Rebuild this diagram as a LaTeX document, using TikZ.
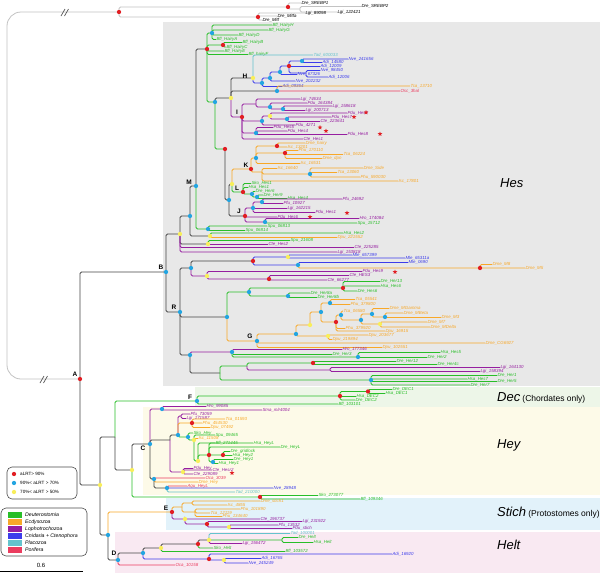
\documentclass[tikz,border=0pt]{standalone}
\usepackage{fontspec}
\setmainfont{Liberation Sans}
\usetikzlibrary{shapes.geometric}
\pgfdeclarelayer{bg}\pgfdeclarelayer{fg}\pgfsetlayers{bg,main,fg}
\definecolor{dG}{RGB}{40,190,40}
\definecolor{dO}{RGB}{248,168,40}
\definecolor{dP}{RGB}{150,30,160}
\definecolor{dB}{RGB}{60,60,235}
\definecolor{dC}{RGB}{100,195,205}
\definecolor{dR}{RGB}{235,60,95}
\definecolor{bk}{RGB}{70,70,70}
\definecolor{ogc}{RGB}{195,195,195}
\definecolor{cR}{RGB}{225,30,35}
\definecolor{cB}{RGB}{35,165,225}
\definecolor{cY}{RGB}{248,238,90}
\definecolor{bgHes}{RGB}{232,232,232}
\definecolor{bgDec}{RGB}{237,246,232}
\definecolor{bgHey}{RGB}{253,250,232}
\definecolor{bgSt}{RGB}{226,242,250}
\definecolor{bgHe}{RGB}{249,233,242}
\newcommand\lfont{\fontsize{4.4}{5}\selectfont\itshape}
\newcommand\tdot[2]{\begin{pgfonlayer}{fg}\node[dot,fill=#2] (#1-d) at (#1) {};\end{pgfonlayer}}
\newcommand\tleaf[6]{\node[lf,text=#5] (#1) at (#3,#4) {#6};\draw[br,#5] (#2) |- (#1.west);}
\newcommand\tleafk[6]{\node[lf,text=black] (#1) at (#3,#4) {#6};\draw[br,#5] (#2) |- (#1.west);}
\newcommand\tnode[6]{\coordinate (#1) at (#3,#4);\draw[br,#5] (#2) |- (#1);\tdot{#1}{#6}}
\newcommand\tstar[3]{\begin{pgfonlayer}{fg}\node[st] (#1) at (#2,#3) {};\end{pgfonlayer}}
\tikzset{
  br/.style={line width=0.8pt,rounded corners=1.5pt},
  lf/.style={anchor=west,inner sep=0.3pt,font=\lfont},
  dot/.style={circle,inner sep=0pt,minimum size=4.3pt,draw=none},
  st/.style={star,star points=5,star point ratio=2.2,fill=cR,minimum size=4.8pt,inner sep=0pt},
  clet/.style={font=\fontsize{6.5}{7}\selectfont\bfseries,inner sep=0pt},
  big/.style={anchor=west,inner sep=0pt,font=\fontsize{13}{14}\selectfont\itshape},
  brk/.style={black!65,line width=0.7pt},
}
\begin{document}
\begin{tikzpicture}[x=1pt,y=-1pt]
\useasboundingbox (0,0) rectangle (600,573);
\begin{pgfonlayer}{bg}
\fill[white] (0,0) rectangle (600,573);
\fill[bgHes] (163,22) rectangle (600,386);
\fill[bgDec] (195,387) rectangle (600,407);
\fill[bgHey] (143,407) rectangle (600,495);
\fill[bgSt] (166,498) rectangle (600,530);
\fill[bgHe] (115,532) rectangle (600,573);
\end{pgfonlayer}
% ---------- outgroup ----------
\coordinate (A) at (80,379);
\coordinate (og) at (119,12);
\draw[br,ogc,rounded corners=14pt] (A) -- (7,379) -- (7,12) -- (og);
\draw[brk] (40,383) -- (44,376) (43.5,383) -- (47.5,376);
\draw[brk] (61,16) -- (65,9) (64.5,16) -- (68.5,9);
\tdot{A}{cR}\tdot{og}{cR}
\tnode{ogS}{og}{288}{7}{ogc}{cR}
\tleafk{sreb1}{ogS}{301}{3}{ogc}{Dre\_SREBP1}
\tnode{ogS2}{ogS}{300}{9}{ogc}{none}
\tleafk{sreb2}{ogS2}{361}{6.5}{ogc}{Dre\_SREBP2}
\tleafk{lgi122}{ogS2}{337}{12}{ogc}{Lgi\_122421}
\tnode{ogM}{og}{258}{17}{ogc}{cR}
\tleafk{lgi89}{ogM}{305}{13}{ogc}{Lgi\_89098}
\tleafk{mitfa}{ogM}{277}{16}{ogc}{Dre\_Mitfa}
\tleafk{mitf}{ogM}{262}{20}{ogc}{Dre\_Mitf}
% ---------- Hes ----------
\tnode{B}{A}{166}{272}{bk}{cB}
\tnode{YB}{B}{180}{234}{bk}{cY}
\tnode{MB}{YB}{190}{216}{bk}{cB}
\tnode{M}{MB}{196}{186}{bk}{cB}
\tnode{N1}{M}{207}{49}{bk}{cR}
\tnode{bflA}{N1}{212}{33}{dG}{cB}
\tleaf{hH}{bflA}{272}{25}{dG}{Bfl\_HairyH}
\tleaf{hG}{bflA}{268}{30}{dG}{Bfl\_HairyG}
\tleaf{hD}{bflA}{238}{35}{dG}{Bfl\_HairyD}
\tleaf{hA}{bflA}{216}{39.5}{dG}{Bfl\_HairyA}
\tnode{bflB}{N1}{223}{45}{dG}{cR}
\tleaf{hB}{bflB}{242}{42.5}{dG}{Bfl\_HairyB}
\tleaf{hC}{bflB}{226}{47}{dG}{Bfl\_HairyC}
\tleaf{hE}{N1}{224}{51}{dG}{Bfl\_HairyE}
\tleaf{hF}{N1}{248}{54.5}{dG}{Bfl\_hairyF}
\tnode{N2}{N1}{215}{102}{dG}{cB}
\tnode{HI}{N2}{231}{98}{bk}{cY}
\tnode{H}{HI}{253}{78}{bk}{cY}
\tleaf{tad6}{H}{313}{55}{dC}{Tad\_600033}
\tnode{cnA}{H}{262}{83}{dB}{cB}
\tleaf{adi093}{cnA}{282}{86.5}{dB}{Adi\_09364}
\tnode{cnB}{cnA}{270}{78}{dB}{cB}
\tleaf{nve202}{cnB}{295}{81}{dB}{Nve\_202232}
\tnode{cnC}{cnB}{280}{72}{dB}{cB}
\tleaf{nve673}{cnC}{297}{74.5}{dB}{Nve\_67326}
\tnode{cnD}{cnC}{289}{66}{dB}{cR}
\tnode{cnE}{cnD}{302}{61}{dB}{cB}
\tleaf{nve241}{cnE}{348}{59}{dB}{Nve\_241656}
\tleaf{adi145}{cnE}{322}{62.5}{dB}{Adi\_14580}
\tleaf{adi120}{cnD}{320}{66.5}{dB}{Adi\_12009}
\tnode{cnF}{cnD}{306}{73}{dB}{none}
\tleaf{nve984}{cnF}{320}{70.5}{dB}{Nve\_98450}
\tleaf{adi1206}{cnF}{328}{77}{dB}{Adi\_12006}
\tnode{os}{HI}{277}{91}{bk}{cB}
\tleaf{tca137}{os}{410}{86}{dO}{Tca\_13710}
\tleaf{osc}{os}{400}{91}{dR}{Osc\_3hal}
% I clade
\tnode{I}{HI}{242}{117}{dP}{cR}
\tnode{iA}{I}{256}{104}{dP}{none}
\tleaf{lgi746}{iA}{300}{99}{dP}{Lgi\_74634}
\tnode{iB}{iA}{270}{107}{dP}{cB}
\tleaf{pdu164}{iB}{307}{103}{dP}{Pdu\_164384}
\tnode{iC}{iB}{283}{109}{dP}{cB}
\tleaf{lgi158}{iC}{332}{106}{dP}{Lgi\_158618}
\tleaf{lgi200}{iC}{305}{110.5}{dP}{Lgi\_200713}
\tnode{iD}{I}{262}{121}{dP}{cB}
\tnode{iE}{iD}{270}{116}{dP}{cY}
\tleaf{pduh2}{iE}{347}{113}{dP}{Pdu\_Hes2}
\tnode{iF}{iE}{287}{119}{dP}{cB}
\tleaf{pduh7}{iF}{331}{117}{dP}{Pdu\_Hes7}
\tleaf{cte223}{iF}{320}{121.5}{dP}{Cte\_223641}
\tleaf{pdu427}{iD}{295}{125}{dP}{Pdu\_4271}
\tnode{iG}{I}{256}{133}{dP}{cB}
\tleaf{pduh5}{iG}{273}{127.5}{dP}{Pdu\_Hes5}
\tleaf{pduh4}{iG}{287}{131}{dP}{Pdu\_Hes4}
\tleaf{pduh8}{iG}{347}{134.5}{dP}{Pdu\_Hes8}
\tleaf{cteh1}{I}{303}{139}{dP}{Cte\_Hes1}
\tstar{s1}{366}{112.5}\tstar{s2}{354}{117}\tstar{s3}{380}{134}\tstar{s4}{320}{127.5}\tstar{s5}{326}{131}
% K L J
\tnode{N3}{N2}{225}{149}{dG}{cR}
\tnode{KLJ}{N3}{229}{200}{bk}{cB}
\tnode{KL}{KLJ}{232}{184}{bk}{cY}
\tnode{K}{KL}{251}{169}{dO}{cR}
\tnode{k1}{K}{256}{158}{dO}{cB}
\tnode{k2}{k1}{277}{146}{dO}{cR}
\tleaf{dmehairy}{k2}{305}{143}{dO}{Dme\_hairy}
\tleaf{isc132}{k2}{287}{147}{dO}{Isc\_13201}
\tnode{k3}{k1}{285}{153}{dO}{cR}
\tleaf{phu170}{k3}{298}{150.5}{dO}{Phu\_170110}
\tleaf{tca062}{k3}{343}{154.5}{dO}{Tca\_06224}
\tleaf{dmedpn}{k3}{322}{158.5}{dO}{Dme\_dpn}
\tleaf{isc165}{k1}{300}{163.5}{dO}{Isc\_16531}
\tnode{k4}{K}{262}{172}{dO}{none}
\tleaf{isc166}{k4}{277}{168.5}{dO}{Isc\_16640}
\tnode{k5}{k4}{310}{174}{dO}{cB}
\tleaf{dmeside}{k5}{363}{168}{dO}{Dme\_Side}
\tleaf{tca130}{k5}{337}{172.5}{dO}{Tca\_13060}
\tleaf{phu590}{k5}{360}{177}{dO}{Phu\_590030}
\tleaf{isc178}{k4}{398}{181}{dO}{Isc\_17801}
\tnode{L}{KL}{243}{192}{dG}{cR}
\tleaf{skoh1}{L}{251}{183.5}{dG}{Sko\_Hes1}
\tleaf{hsah1}{L}{248}{187.5}{dG}{Hsa\_Hes1}
\tnode{lA}{L}{252}{194}{dG}{cB}
\tleaf{dreh6}{lA}{255}{191.5}{dG}{Dre\_Her6}
\tnode{lB}{lA}{257}{197}{dG}{cB}
\tleaf{dreh9}{lB}{263}{195}{dG}{Dre\_Her9}
\tleaf{hsah4}{lB}{287}{198.5}{dG}{Hsa\_Hes4}
\tnode{J}{KLJ}{245}{216}{bk}{cR}
\tnode{jA}{J}{253}{208}{dP}{cB}
\tnode{jB}{jA}{262}{202}{dP}{cB}
\tleaf{pfu246}{jB}{342}{199}{dP}{Pfu\_24692}
\tleaf{pfu109}{jB}{283}{203.5}{dP}{Pfu\_10927}
\tleaf{lgi162}{jA}{287}{208.5}{dP}{Lgi\_162215}
\tleaf{pduh1}{jA}{315}{212.5}{dP}{Pdu\_Hes1}
\tleaf{pduh6}{J}{277}{217}{dP}{Pdu\_Hes6}
\tnode{hs}{J}{265}{222}{dP}{cB}
\tleaf{hro174}{hs}{359}{218.5}{dP}{Hro\_174084}
\tleaf{spu157}{hs}{357}{223}{dG}{Spu\_15712}
\tstar{s6}{347}{213}\tstar{s7}{310}{217}
\tnode{sp}{M}{208}{229}{dG}{cB}
\tleaf{spu813}{sp}{267}{226}{dG}{Spu\_06813}
\tleaf{spu814}{sp}{245}{230.5}{dG}{Spu\_06814}
\tnode{yh}{MB}{210}{236}{bk}{cY}
\tleaf{hsah2}{yh}{343}{233}{dG}{Hsa\_Hes2}
\tleaf{dpu221}{yh}{337}{237.5}{dO}{Dpu\_221552}
\tnode{yc}{YB}{208}{244}{bk}{cY}
\tleaf{spu216}{yc}{290}{240.5}{dG}{Spu\_21608}
\tleaf{cteh2}{yc}{268}{244.5}{dP}{Cte\_Hes2}
\tleaf{cte225}{YB}{354}{247.5}{dP}{Cte\_225285}
\tleaf{lgi153}{YB}{337}{252}{dP}{Lgi\_153818}
% R
\tnode{R}{B}{180}{312}{bk}{cB}
\tnode{rU}{R}{191}{268}{bk}{cB}
\tnode{mle}{rU}{253}{261}{bk}{cR}
\tnode{m1}{mle}{288}{257}{dB}{cY}
\tleaf{mle657}{m1}{352}{255}{dB}{Mle\_657399}
\tleaf{mle653}{m1}{405}{258}{dB}{Mle\_65311a}
\tnode{m2}{mle}{298}{265}{dB}{cB}
\tleaf{mle069}{m2}{408}{262.5}{dB}{Mle\_0690}
\tnode{m3}{m2}{480}{268}{dO}{cR}
\tleaf{dmem8}{m3}{492}{264.5}{dO}{Dme\_M8}
\tleaf{dmem5}{m3}{525}{268}{dO}{Dme\_M5}
\tnode{yp}{rU}{207}{276}{dP}{cY}
\tleaf{pduh9}{yp}{362}{271.5}{dP}{Pdu\_Hes9}
\tnode{cte}{yp}{269}{279}{dP}{cR}
\tleaf{cteh3}{cte}{349}{275.5}{dP}{Cte\_HES3}
\tleaf{cte662}{cte}{327}{280}{dP}{Cte\_66277}
\tstar{s8}{395}{272}
\tnode{gH}{R}{227}{317}{bk}{cB}
\tnode{hr}{gH}{249}{292}{dG}{cB}
\tnode{h13}{hr}{343}{288}{dG}{cR}
\tleaf{dreh13}{h13}{380}{281.5}{dG}{Dre\_Her13}
\tleaf{hsah6}{h13}{380}{286}{dG}{Hsa\_Hes6}
\tleaf{dreh6b}{h13}{357}{291}{dG}{Dre\_Hes6}
\tnode{h8}{hr}{288}{296}{dG}{cB}
\tleaf{dreh8a}{h8}{310}{293}{dG}{Dre\_Her8a}
\tleaf{dreh8b}{h8}{317}{297.5}{dG}{Dre\_Her8b}
\tnode{G}{gH}{257}{341}{dO}{cB}
\tnode{g1}{G}{296}{334}{dO}{cB}
\tnode{g2}{g1}{310}{325}{dO}{cY}
\tnode{g3}{g2}{321}{312}{dO}{cB}
\tnode{g4}{g3}{330}{303}{dO}{cB}
\tleaf{tca055}{g4}{355}{299.5}{dO}{Tca\_05541}
\tleaf{phu3798}{g4}{350}{304.5}{dO}{Phu\_379800}
\tnode{g5}{g3}{336}{322}{dO}{cR}
\tnode{g6}{g5}{341}{315}{dO}{cB}
\tleaf{tca065}{g6}{343}{311}{dO}{Tca\_06580}
\tnode{g7}{g6}{361}{320}{dO}{cB}
\tnode{g8}{g7}{372}{314}{dO}{cB}
\tleaf{mgam}{g8}{389}{308.5}{dO}{Dme\_MGamma}
\tnode{g9}{g8}{385}{317}{dO}{cB}
\tleaf{mbet}{g9}{403}{313}{dO}{Dme\_MBeta}
\tleaf{dmem3}{g9}{441}{317.5}{dO}{Dme\_M3}
\tnode{g10}{g7}{380}{324}{dO}{cY}
\tleaf{dmem7}{g10}{427}{322}{dO}{Dme\_M7}
\tleaf{mdel}{g10}{430}{327}{dO}{Dme\_MDelta}
\tleaf{phu3799}{g5}{345}{328.5}{dO}{Phu\_379920}
\tleaf{dpu169}{g5}{385}{331}{dO}{Dpu\_16915}
\tnode{g11}{g1}{328}{336}{dO}{cY}
\tleaf{dpu203}{g11}{368}{335}{dO}{Dpu\_203677}
\tleaf{dpu219}{g11}{332}{339.5}{dO}{Dpu\_219894}
\tleaf{cg69}{G}{485}{343}{dO}{Dme\_CG6927}
\tleaf{dpu102}{G}{382}{347.5}{dO}{Dpu\_102551}
\tnode{rL}{R}{190}{355}{bk}{cB}
\tnode{hd}{rL}{232}{352}{dP}{cB}
\tleaf{hro177}{hd}{342}{349.5}{dP}{Hro\_177346}
\tleaf{dreh3}{hd}{332}{354.5}{dG}{Dre\_Her3}
\tnode{hg}{hd}{358}{357}{dG}{cB}
\tleaf{hsah5}{hg}{440}{352.5}{dG}{Hsa\_Hes5}
\tleaf{dreh2}{hg}{427}{357.5}{dG}{Dre\_Her2}
\tnode{rE}{rL}{220}{373}{bk}{none}
\tnode{rEa}{rE}{247}{366}{dG}{none}
\tnode{her}{rEa}{313}{363}{dG}{cR}
\tleaf{dreh12}{her}{396}{361.5}{dG}{Dre\_Her12}
\tleaf{dreh4c}{her}{437}{364.5}{dG}{Dre\_Her4c}
\tnode{lg2}{rEa}{330}{370}{dP}{none}
\tleaf{lgi164}{lg2}{500}{367.5}{dP}{Lgi\_164130}
\tleaf{lgi158b}{lg2}{480}{371.5}{dP}{Lgi\_158394}
\tnode{gr}{rE}{371}{380}{dG}{cB}
\tleaf{dreh1}{gr}{497}{375.5}{dG}{Dre\_Her1}
\tleaf{hsah7}{gr}{467}{379}{dG}{Hsa\_Hes7}
\tleaf{dreh5}{gr}{497}{381.5}{dG}{Dre\_Her5}
\tleaf{dreh7}{gr}{470}{385}{dG}{Dre\_Her7}
% ---------- Dec / Hey ----------
\tnode{Y1}{A}{100}{485}{bk}{cY}
\tnode{P}{Y1}{115}{437}{bk}{none}
\tnode{F}{P}{197}{401}{dG}{cB}
\tnode{dA}{F}{340}{396}{dG}{cR}
\tnode{decB}{dA}{368}{391.5}{dG}{cR}
\tleaf{dredec1}{decB}{392}{389.5}{dG}{Dre\_DEC1}
\tleaf{hsadec1}{decB}{385}{393.5}{dG}{Hsa\_DEC1}
\tleaf{hsadec2}{dA}{356}{396.5}{dG}{Hsa\_DEC2}
\tleaf{dredec2}{dA}{355}{400}{dG}{Dre\_DEC2}
\tleaf{bfl1031}{F}{338}{404}{dG}{Bfl\_103101}
\tnode{Q}{P}{132}{470}{bk}{cY}
\tnode{skb}{Q}{260}{497}{dG}{cR}
\tleaf{sko273}{skb}{318}{495.5}{dG}{Sko\_273077}
\tleaf{bfl109}{skb}{360}{499}{dG}{Bfl\_109346}
\tnode{C}{Q}{150}{444}{bk}{cB}
\tnode{cU}{C}{162}{409}{dP}{cB}
\tleaf{hro990}{cU}{206}{406.5}{dP}{Hro\_99085}
\tleaf{sma}{cU}{262}{410}{dP}{Sma\_mlr4004}
\tnode{cA}{C}{170}{440}{bk}{none}
\tnode{cBn}{cA}{178}{435}{bk}{cB}
\tnode{cPl}{cBn}{181}{416}{dP}{none}
\tleaf{pfu730}{cPl}{190}{414}{dP}{Pfu\_73059}
\tleaf{lgi171}{cPl}{186}{418.5}{dP}{Lgi\_171587}
\tnode{cRn}{cBn}{192}{423}{dO}{cR}
\tleaf{tca015}{cRn}{225}{419}{dO}{Tca\_01593}
\tleaf{phu454}{cRn}{202}{423}{dO}{Phu\_454530}
\tleaf{dpu074}{cRn}{210}{427.5}{dO}{Dpu\_07492}
\tnode{cD}{cBn}{188}{437}{dG}{cB}
\tleaf{skohey}{cD}{193}{433}{dG}{Sko\_Hey}
\tnode{cE}{cD}{194}{440}{dG}{cY}
\tleaf{spu094}{cE}{215}{435}{dG}{Spu\_09465}
\tleaf{isc115}{cE}{198}{438.5}{dO}{Isc\_11508}
\tnode{cV}{cE}{198}{461}{dG}{cY}
\tleaf{bfl271}{cV}{215}{443}{dG}{Bfl\_271445}
\tnode{vH}{cV}{209}{455}{dG}{cR}
\tleaf{hsaheyl}{vH}{253}{443}{dG}{Hsa\_HeyL}
\tleaf{dreheyl}{vH}{280}{447}{dG}{Dre\_HeyL}
\tnode{vH2}{vH}{223}{455}{dG}{cR}
\tleaf{dregrid}{vH2}{230}{451.5}{dG}{Dre\_gridlock}
\tleaf{hsahey2}{vH2}{232}{455.5}{dG}{Hsa\_Hey2}
\tnode{vH3}{vH}{213}{462}{dG}{cB}
\tleaf{drehey1}{vH3}{233}{459.5}{dG}{Dre\_Hey1}
\tleaf{hsahey1}{vH3}{218}{463.5}{dG}{Hsa\_Hey1}
\tnode{cYn}{cA}{183}{472}{dP}{cY}
\tleaf{pduhey}{cYn}{193}{468.5}{dP}{Pdu\_Hey}
\tleaf{ctehesr2}{cYn}{212}{470}{dP}{Cte\_Hesr2}
\tleaf{cte229}{cYn}{193}{474}{dP}{Cte\_229089}
\tstar{s9}{232}{473}
\tnode{cL}{C}{154}{479}{bk}{cB}
\tleaf{oca303}{cL}{205}{478}{dR}{Oca\_3039}
\tleaf{dmehey}{cL}{198}{482}{dO}{Dme\_Hey}
\tnode{c2}{cL}{167}{488}{bk}{cB}
\tleaf{aqu}{c2}{187}{486}{dR}{Aqu\_HeyL}
\tleaf{nve289}{c2}{273}{488}{dB}{Nve\_28948}
\tleaf{tad210}{c2}{235}{492}{dC}{Tad\_210000}
% ---------- Stich ----------
\tnode{SH}{Y1}{108}{535}{bk}{cB}
\tnode{E}{SH}{172}{512}{dO}{cR}
\tnode{eO}{E}{182}{507}{dO}{none}
\tnode{eO1}{eO}{192}{503}{dO}{none}
\tleaf{dmestich}{eO1}{260}{501}{dO}{Dme\_stich1}
\tleaf{isc485}{eO1}{227}{505}{dO}{Isc\_4855}
\tnode{eO2}{eO}{195}{512}{dO}{none}
\tleaf{phu101}{eO2}{240}{509}{dO}{Phu\_101890}
\tleaf{tca121}{eO2}{210}{513}{dO}{Tca\_12119}
\tleaf{phu134}{eO2}{222}{516.5}{dO}{Phu\_134640}
\tnode{eM}{E}{185}{519}{dP}{cY}
\tleaf{cte196}{eM}{260}{519}{dP}{Cte\_196737}
\tnode{eM2}{eM}{207}{524}{dP}{cR}
\tleaf{lgi231}{eM2}{302}{521.5}{dP}{Lgi\_231922}
\tnode{eM3}{eM2}{229}{527}{dP}{cY}
\tleaf{pfu135}{eM3}{278}{525}{dP}{Pfu\_13532}
\tleaf{pdustich}{eM3}{292}{528.5}{dP}{Pdu\_stich}
% ---------- Helt ----------
\tnode{D}{SH}{118}{560}{bk}{cB}
\tnode{dd1}{D}{143}{553}{bk}{cB}
\tnode{dd2}{dd1}{161}{548}{bk}{cY}
\tnode{dd3}{dd2}{198}{544}{bk}{cR}
\tnode{dd4}{dd3}{209}{540}{bk}{cY}
\tleaf{tad100}{dd4}{290}{533.5}{dC}{Tad\_100001}
\tnode{dv}{dd4}{282}{540}{dG}{none}
\tleaf{drehelt}{dv}{298}{537.5}{dG}{Dre\_Helt}
\tleaf{hsahelt}{dv}{313}{542.5}{dG}{Hsa\_Helt}
\tleaf{lgi156}{dd4}{242}{543.5}{dP}{Lgi\_156472}
\tleaf{skohelt}{dd3}{213}{548}{dG}{Sko\_Helt}
\tleaf{bfl1035}{dd2}{285}{551.5}{dG}{Bfl\_103572}
\tnode{dc}{dd1}{209}{559}{dB}{cR}
\tleaf{adi169}{dc}{392}{554}{dB}{Adi\_16920}
\tnode{dc2}{dc}{224}{560}{dB}{cY}
\tleaf{adi167}{dc2}{261}{558.5}{dB}{Adi\_16765}
\tleaf{nve245}{dc2}{248}{563}{dB}{Nve\_245249}
\tleaf{oca101}{D}{175}{565}{dR}{Oca\_10158}
% ---------- clade letters ----------
\node[clet] (lA) at (75,374) {A};
\node[clet] (lB) at (161,267) {B};
\node[clet] (lR) at (174,307) {R};
\node[clet] (lG) at (250,336) {G};
\node[clet] (lM) at (189,182) {M};
\node[clet] (lL) at (237,188) {L};
\node[clet] (lK) at (246,165) {K};
\node[clet] (lJ) at (239,211) {J};
\node[clet] (lH) at (245,76) {H};
\node[clet] (lI) at (237,112) {I};
\node[clet] (lF) at (190,397) {F};
\node[clet] (lC) at (143,448) {C};
\node[clet] (lE) at (166,508) {E};
\node[clet] (lD) at (114,553) {D};
% ---------- family labels ----------
\node[big] (tHes) at (500,183) {Hes};
\node[big] (tDec) at (497,398) {Dec\,{\fontsize{8.5}{9}\selectfont\upshape(Chordates only)}};
\node[big] (tHey) at (497,445) {Hey};
\node[big] (tSt) at (497,513) {Stich\,{\fontsize{8.5}{9}\selectfont\upshape(Protostomes only)}};
\node[big] (tHe) at (497,545) {Helt};
% ---------- legends ----------
\draw[rounded corners=5pt,line width=0.6pt,draw=black!70,fill=white] (7,467) rectangle (77,499);
\node[dot,fill=cR] (lg1) at (14,474) {};
\node[dot,fill=cB] (lg2) at (14,483) {};
\node[dot,fill=cY] (lg3) at (14,492) {};
\node[anchor=west,inner sep=0pt,font=\fontsize{4.6}{5}\selectfont] (lt1) at (20,474) {aLRT> 90\%};
\node[anchor=west,inner sep=0pt,font=\fontsize{4.6}{5}\selectfont] (lt2) at (20,483) {90\%< aLRT > 70\%};
\node[anchor=west,inner sep=0pt,font=\fontsize{4.6}{5}\selectfont] (lt3) at (20,492) {70\%< aLRT > 50\%};
\draw[rounded corners=5pt,line width=0.6pt,draw=black!70,fill=white] (1,508) rectangle (87,556);
\foreach \c/\t/\yy [count=\i] in {dG/Deuterostomia/515,dO/Ecdysozoa/522,dP/Lophotrochozoa/529,dB/Cnidaria + Ctenophora/536,dC/Placozoa/543,dR/Porifera/550}{
  \fill[\c] (8,\yy-2.6) rectangle (22,\yy+2.6);
  \node[anchor=west,inner sep=0pt,font=\fontsize{5.2}{6}\selectfont\itshape] (cl\i) at (25,\yy) {\t};
}
\draw[line width=0.7pt] (0,571) -- (83,571);
\node[font=\fontsize{6}{7}\selectfont,inner sep=0pt] (sc) at (41,565) {0.6};
\end{tikzpicture}
\end{document}
